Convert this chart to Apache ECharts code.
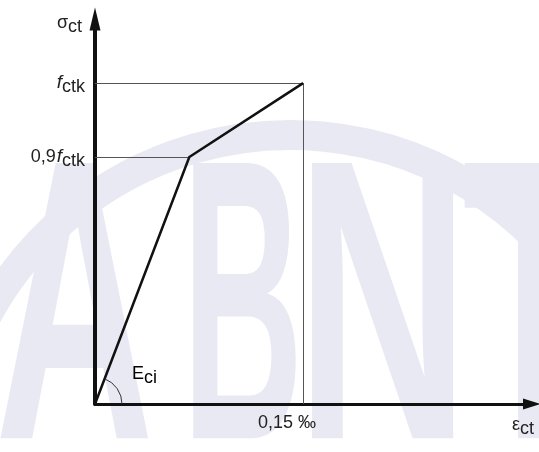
<!DOCTYPE html>
<html>
<head>
<meta charset="utf-8">
<script src="https://cdn.jsdelivr.net/npm/echarts@6/dist/echarts.min.js"></script>
<style>
html, body { margin: 0; padding: 0; background: #fff; }
#chart { width: 539px; height: 452px; }
</style>
</head>
<body>
<div id="chart"></div>
<script>
// diagrama tensão-deformação na tração (esquemático)
var strain = [0, 0.068, 0.15];          // ‰
var stress = [0, 0.77, 1.0];            // posição relativa a fctk no desenho
var strainTicks = [0.15];
var strainTickLabels = ['0,15 ‰'];
var stressLevels = [1.0, 0.77];
var stressLevelEnds = [0.15, 0.068];
var stressLabels = ['{f|f}{s|ctk}', '{n|0,9}{f|f}{s|ctk}'];

var chart = echarts.init(document.getElementById('chart'));

var font = '"Liberation Sans", Arial, sans-serif';
var labelRich = {
    n: { fontSize: 18, fontFamily: font, color: '#222', padding: [0, 1, 0, 0] },
    f: { fontSize: 19, fontFamily: font, fontStyle: 'italic', color: '#222' },
    s: { fontSize: 18, fontFamily: font, color: '#222', padding: [8, 0, 0, 0] },
    g: { fontSize: 18, fontFamily: font, color: '#222' },
    e: { fontSize: 18, fontFamily: font, color: '#222' }
};

var curve = [];
for (var i = 0; i < strain.length; i++) {
    curve.push([strain[i], stress[i]]);
}

var guides = [];
for (var j = 0; j < stressLevels.length; j++) {
    guides.push([
        { coord: [0, stressLevels[j]], label: { show: true, position: 'start', distance: 10, formatter: stressLabels[j], rich: labelRich } },
        { coord: [stressLevelEnds[j], stressLevels[j]] }
    ]);
}
guides.push([
    { coord: [strainTicks[0], stressLevels[0]], label: { show: false } },
    { coord: [strainTicks[0], 0] }
]);

var option = {
    animation: false,
    backgroundColor: '#fff',
    grid: {
        left: 95,
        right: 7,
        top: 19,
        bottom: 48,
        containLabel: false,
        outerBoundsMode: 'none'
    },
    xAxis: {
        type: 'value',
        min: 0,
        max: 0.315,
        interval: 0.05,
        name: '{g|ε}{s|ct}',
        nameLocation: 'end',
        nameGap: -20,
        nameTextStyle: {
            align: 'left',
            verticalAlign: 'top',
            padding: [8, 0, 0, 0],
            rich: labelRich
        },
        axisLine: {
            show: true,
            lineStyle: { color: '#111', width: 3 },
            symbol: ['none', 'triangle'],
            symbolSize: [11, 18]
        },
        axisTick: { show: false },
        splitLine: { show: false },
        axisLabel: {
            margin: 10,
            fontSize: 18,
            fontFamily: font,
            color: '#222',
            padding: [0, 32, 0, 0],
            formatter: function (v) {
                for (var k = 0; k < strainTicks.length; k++) {
                    if (Math.abs(v - strainTicks[k]) < 1e-9) return strainTickLabels[k];
                }
                return '';
            }
        }
    },
    yAxis: {
        type: 'value',
        min: 0,
        max: 1.2,
        name: '{g|σ}{s|ct}',
        nameLocation: 'end',
        nameGap: -4,
        nameTextStyle: {
            align: 'right',
            verticalAlign: 'middle',
            padding: [0, 13, 0, 0],
            rich: labelRich
        },
        axisLine: {
            show: true,
            lineStyle: { color: '#111', width: 4 },
            symbol: ['none', 'triangle'],
            symbolSize: [11, 23]
        },
        axisTick: { show: false },
        splitLine: { show: false },
        axisLabel: { show: false }
    },
    series: [
        {
            type: 'line',
            data: curve,
            showSymbol: false,
            symbol: 'none',
            clip: false,
            z: 5,
            lineStyle: { color: '#111', width: 2.5 },
            markLine: {
                silent: true,
                symbol: ['none', 'none'],
                lineStyle: { color: '#555', width: 1, type: 'solid' },
                label: { show: false },
                data: guides
            }
        }
    ]
};
chart.setOption(option);

// módulo Eci: arco e rótulo junto à origem
var o = chart.convertToPixel({ gridIndex: 0 }, [strain[0], stress[0]]);
var k1 = chart.convertToPixel({ gridIndex: 0 }, [strain[1], stress[1]]);
var ang = Math.atan2(o[1] - k1[1], k1[0] - o[0]);

// marca d'água ao fundo
var wmColor = '#e9e9f3';
var wmFont = 'bold 400px "Liberation Sans", Arial, sans-serif';
var wmLetters = [
    { t: 'A', x: -5, sx: 0.55 },
    { t: 'B', x: 182, sx: 0.42 },
    { t: 'N', x: 296, sx: 0.6 },
    { t: 'T', x: 462, sx: 0.6 }
];
var graphics = [
    {
        type: 'arc',
        z: -10,
        silent: true,
        shape: { cx: 290, cy: 480, r: 345, startAngle: Math.PI * 1.03, endAngle: Math.PI * 1.86 },
        style: { stroke: wmColor, lineWidth: 30, fill: null }
    }
];
wmLetters.forEach(function (l) {
    graphics.push({
        type: 'text',
        z: -10,
        silent: true,
        x: l.x,
        y: 128,
        scaleX: l.sx,
        style: { text: l.t, font: wmFont, fill: wmColor, verticalAlign: 'top' }
    });
});
graphics.push(
    {
        type: 'arc',
        z: 10,
        silent: true,
        shape: { cx: o[0], cy: o[1], r: 27, startAngle: -ang, endAngle: 0, clockwise: true },
        style: { stroke: '#333', lineWidth: 1, fill: null }
    },
    {
        type: 'text',
        z: 10,
        silent: true,
        x: o[0] + 37,
        y: o[1] - 43,
        style: { text: '{e|E}{s|ci}', rich: labelRich }
    }
);

chart.setOption({ graphic: graphics });
</script>
</body>
</html>
